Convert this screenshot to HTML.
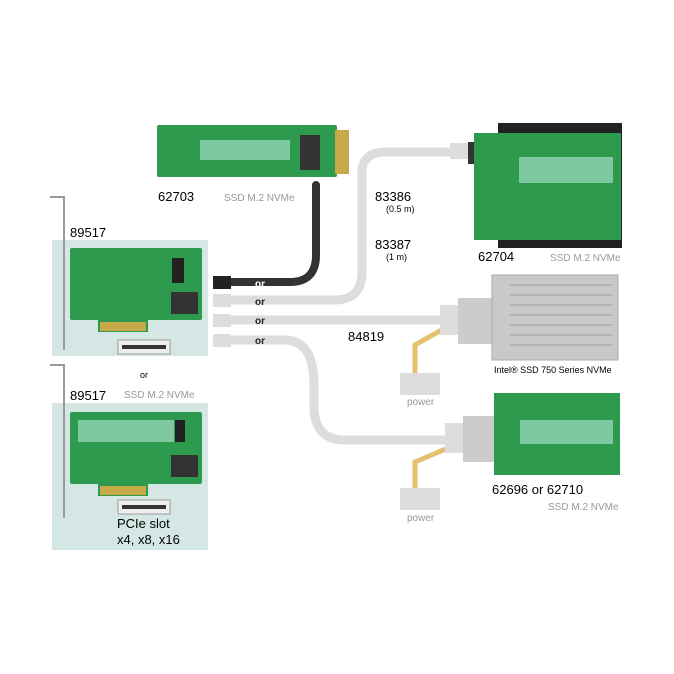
<!DOCTYPE html>
<html><head><meta charset="utf-8"><style>
html,body{margin:0;padding:0;background:#fff}
svg{display:block}
text{font-family:"Liberation Sans",sans-serif}
</style></head><body>
<svg width="674" height="674" viewBox="0 0 674 674" xmlns="http://www.w3.org/2000/svg">
<rect width="674" height="674" fill="#fff"/>
<rect x="52" y="240" width="156" height="116" fill="#d4e7e4"/>
<rect x="52" y="403" width="156" height="147" fill="#d4e7e4"/>
<g stroke="#999" stroke-width="2" fill="none">
<path d="M50 197 H64 V350"/><path d="M50 365 H64 V518"/>
</g>
<!-- card 1 -->
<rect x="70" y="248" width="132" height="72" fill="#2e9a4e" rx="2"/>
<rect x="98" y="320" width="50" height="12" fill="#2e9a4e"/>
<rect x="100" y="322" width="46" height="9" fill="#c8a94a"/>
<rect x="171" y="292" width="27" height="22" fill="#333"/>
<rect x="172" y="258" width="12" height="25" fill="#222"/>
<rect x="118" y="340" width="52" height="14" fill="#eee" stroke="#999"/>
<rect x="122" y="345" width="44" height="4" fill="#333"/>
<!-- card 2 -->
<rect x="70" y="412" width="132" height="72" fill="#2e9a4e" rx="2"/>
<rect x="78" y="420" width="96" height="22" fill="#7fc9a0"/>
<rect x="98" y="484" width="50" height="12" fill="#2e9a4e"/>
<rect x="100" y="486" width="46" height="9" fill="#c8a94a"/>
<rect x="171" y="455" width="27" height="22" fill="#333"/>
<rect x="175" y="420" width="10" height="22" fill="#222"/>
<rect x="118" y="500" width="52" height="14" fill="#eee" stroke="#999"/>
<rect x="122" y="505" width="44" height="4" fill="#333"/>
<!-- top card 62703 -->
<rect x="157" y="125" width="180" height="52" fill="#2e9a4e" rx="2"/>
<rect x="200" y="140" width="90" height="20" fill="#7fc9a0"/>
<rect x="300" y="135" width="20" height="35" fill="#333"/>
<rect x="335" y="130" width="14" height="44" fill="#c8a94a"/>
<g fill="none" stroke-linecap="round">
<path d="M316 185 V255 Q316 282 290 282 H232" stroke="#333" stroke-width="8"/>
<path d="M232 300 H335 Q360 300 362 275 V170 Q364 152 385 152 H460" stroke="#ddd" stroke-width="9"/>
<path d="M232 320 H445" stroke="#ddd" stroke-width="9"/>
<path d="M232 340 H285 Q312 340 314 380 V410 Q316 440 345 440 H450" stroke="#ddd" stroke-width="9"/>
</g>
<rect x="213" y="276" width="18" height="13" fill="#222"/>
<rect x="213" y="294" width="18" height="13" fill="#ddd"/>
<rect x="213" y="314" width="18" height="13" fill="#ddd"/>
<rect x="213" y="334" width="18" height="13" fill="#ddd"/>
<rect x="450" y="143" width="22" height="16" fill="#ddd"/>
<rect x="468" y="142" width="26" height="22" fill="#333"/>
<path d="M415 375 V345 L445 328" stroke="#e6c070" stroke-width="5" fill="none"/>
<path d="M415 490 V462 L448 448" stroke="#e6c070" stroke-width="5" fill="none"/>
<rect x="440" y="305" width="20" height="30" fill="#ddd"/>
<rect x="458" y="298" width="34" height="46" fill="#ccc"/>
<rect x="445" y="423" width="20" height="30" fill="#ddd"/>
<rect x="463" y="416" width="34" height="46" fill="#ccc"/>
<rect x="400" y="373" width="40" height="22" fill="#ddd"/>
<rect x="400" y="488" width="40" height="22" fill="#ddd"/>
<!-- 62704 -->
<rect x="498" y="123" width="124" height="125" fill="#222"/>
<rect x="474" y="133" width="147" height="107" fill="#2e9a4e"/>
<rect x="519" y="157" width="94" height="26" fill="#7fc9a0"/>
<!-- Intel SSD -->
<rect x="492" y="275" width="126" height="85" fill="#c9c9c9" stroke="#aaa"/>
<g stroke="#b3b3b3" stroke-width="2"><path d="M510 285 H612 M510 295 H612 M510 305 H612 M510 315 H612 M510 325 H612 M510 335 H612 M510 345 H612"/></g>
<!-- 62696 -->
<rect x="494" y="393" width="126" height="82" fill="#2e9a4e"/>
<rect x="520" y="420" width="93" height="24" fill="#7fc9a0"/>
<g font-size="13" fill="#000">
<text x="158" y="201">62703</text>
<text x="70" y="237">89517</text>
<text x="70" y="400">89517</text>
<text x="375" y="201">83386</text>
<text x="375" y="249">83387</text>
<text x="348" y="341">84819</text>
<text x="478" y="261">62704</text>
<text x="492" y="494">62696 or 62710</text>
<text x="117" y="528">PCIe slot</text>
<text x="117" y="544">x4, x8, x16</text>
</g>
<g font-size="9" fill="#000"><text x="386" y="212">(0.5 m)</text><text x="386" y="260">(1 m)</text>
<text x="494" y="373">Intel® SSD 750 Series NVMe</text>
<text x="140" y="378">or</text></g>
<g font-size="10" font-weight="bold"><text x="255" y="287" fill="#fff">or</text><text x="255" y="305" fill="#222">or</text><text x="255" y="324" fill="#222">or</text><text x="255" y="344" fill="#222">or</text></g>
<g font-size="10" fill="#999"><text x="224" y="201">SSD M.2 NVMe</text><text x="124" y="398">SSD M.2 NVMe</text>
<text x="550" y="261">SSD M.2 NVMe</text><text x="548" y="510">SSD M.2 NVMe</text>
<text x="407" y="405">power</text><text x="407" y="521">power</text></g>
</svg>
</body></html>
